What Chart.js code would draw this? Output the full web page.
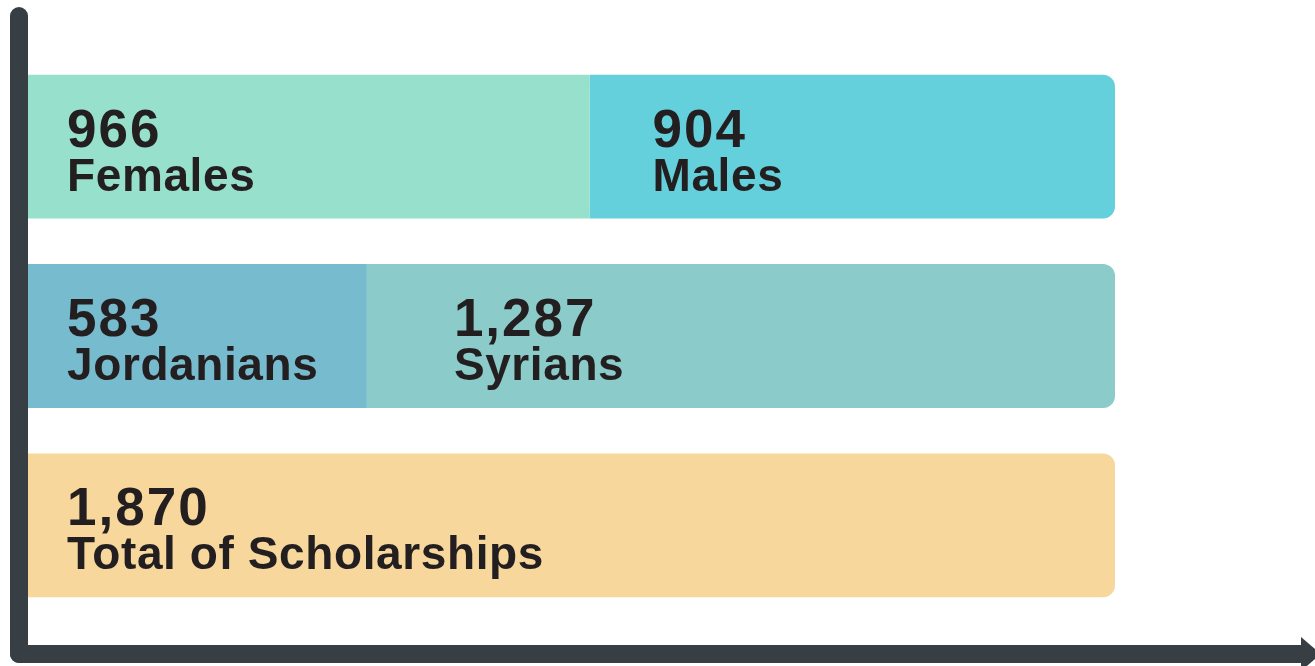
<!DOCTYPE html>
<html>
<head>
<meta charset="utf-8">
<script src="https://cdn.jsdelivr.net/npm/chart.js@4.4.1/dist/chart.umd.min.js"></script>
<style>
  html, body { margin: 0; padding: 0; background: #fff; }
  #wrap { width: 1315px; height: 666px; }
</style>
</head>
<body>
<div id="wrap"><canvas id="grafico"></canvas></div>
<script>
// Linhas do gráfico
const categorias = ['Gender', 'Nationality', 'Total'];

// Primeiro segmento de cada barra
const valoresA = [966, 583, 1870];
const nomesA = ['Females', 'Jordanians', 'Total of Scholarships'];
const coresA = ['#97E0CB', '#77BCCE', '#F7D79C'];

// Segundo segmento (não existe na barra do total)
const valoresB = [904, 1287, null];
const nomesB = ['Males', 'Syrians', ''];
const coresB = ['#63D0DB', '#8BCBCA', '#F7D79C'];

const corEixo = '#373F45';
const corTexto = '#231F20';
const fonte = '"Liberation Sans", Arial, Helvetica, sans-serif';

// Recuo do texto dentro de cada segmento
const recuoA = [39, 39, 39];
const recuoB = [63, 87, 0];

// Eixos desenhados à mão (linha vertical e seta horizontal)
const eixosPlugin = {
    id: 'eixos',
    afterDraw(chart) {
        const ctx = chart.ctx;
        const area = chart.chartArea;
        const w = chart.width;
        const h = chart.height;
        const esp = 18;
        const x1 = area.left;
        const x0 = x1 - esp;
        const yBase = h - 3;
        ctx.save();
        ctx.fillStyle = corEixo;
        // vertical
        ctx.beginPath();
        ctx.roundRect(x0, 7, esp, yBase - 7, [9, 9, 0, 9]);
        ctx.fill();
        // horizontal
        ctx.beginPath();
        ctx.roundRect(x0, yBase - esp, w - 13 - x0, esp, [0, 0, 0, 9]);
        ctx.fill();
        // ponta da seta
        ctx.beginPath();
        ctx.moveTo(w - 14, yBase - esp - 8);
        ctx.lineTo(w + 6, yBase - esp / 2);
        ctx.lineTo(w - 14, yBase + 8);
        ctx.closePath();
        ctx.fill();
        ctx.restore();
    }
};

// Números e rótulos dentro das barras
const rotulosPlugin = {
    id: 'rotulos',
    afterDatasetsDraw(chart) {
        const ctx = chart.ctx;
        ctx.save();
        ctx.fillStyle = corTexto;
        ctx.textAlign = 'left';
        ctx.textBaseline = 'alphabetic';
        const grupos = [
            { meta: chart.getDatasetMeta(0), valores: valoresA, nomes: nomesA, recuo: recuoA },
            { meta: chart.getDatasetMeta(1), valores: valoresB, nomes: nomesB, recuo: recuoB }
        ];
        grupos.forEach(g => {
            g.meta.data.forEach((bar, i) => {
                if (g.valores[i] == null) return;
                const inicio = Math.min(bar.x, bar.base);
                const x = inicio + g.recuo[i];
                ctx.font = 'bold 53px ' + fonte;
                ctx.letterSpacing = '2px';
                ctx.fillText(g.valores[i].toLocaleString('en-US'), x, bar.y);
                ctx.font = 'bold 46px ' + fonte;
                ctx.letterSpacing = '0.6px';
                ctx.fillText(g.nomes[i], x, bar.y + 44);
            });
        });
        ctx.restore();
    }
};

new Chart(document.getElementById('grafico'), {
    type: 'bar',
    data: {
        labels: categorias,
        datasets: [
            {
                data: valoresA,
                backgroundColor: coresA,
                borderWidth: 0,
                borderRadius: ctx => (ctx.dataIndex === 2 ? 12 : 0),
                borderSkipped: 'start'
            },
            {
                data: valoresB,
                backgroundColor: coresB,
                borderWidth: 0,
                borderRadius: 12,
                borderSkipped: 'start'
            }
        ]
    },
    options: {
        indexAxis: 'y',
        responsive: true,
        maintainAspectRatio: false,
        animation: false,
        categoryPercentage: 1,
        barPercentage: 0.76,
        layout: { padding: { left: 28, right: 200, top: 52, bottom: 46 } },
        scales: {
            x: { stacked: true, min: 0, max: 1870, display: false },
            y: { stacked: true, display: false }
        },
        plugins: {
            legend: { display: false },
            tooltip: { enabled: false }
        }
    },
    plugins: [eixosPlugin, rotulosPlugin]
});
</script>
</body>
</html>
